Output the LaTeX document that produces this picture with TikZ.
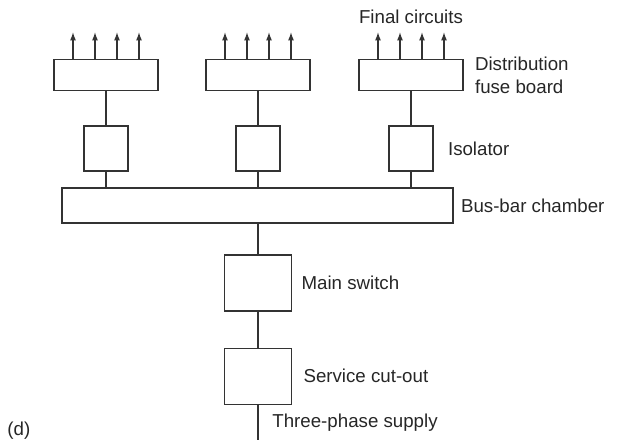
\documentclass[tikz,border=0pt]{standalone}
\usepackage{fontspec}
\setmainfont{Liberation Sans}
\usepackage{tikz}
\usetikzlibrary{positioning, arrows.meta}

\begin{document}
\begin{tikzpicture}[
  x=0.5pt, y=0.5pt,
  unit/.style={draw=black!80, line width=0.65pt, inner sep=0pt},
  board/.style={unit, minimum width=52pt, minimum height=15.5pt},
  iso/.style={unit, minimum width=22pt, minimum height=22.5pt},
  switchbox/.style={unit, minimum width=33.5pt, minimum height=28pt},
  bus/.style={unit, minimum width=195.5pt, minimum height=17.5pt},
  lbl/.style={inner sep=0pt, text=black!85, align=left,
              font=\fontsize{9.35pt}{11.5pt}\selectfont},
  wire/.style={draw=black!80, line width=0.65pt},
  feed/.style={wire, -{Latex[length=4.2pt, width=3pt]}}
]
  \useasboundingbox (0,0) rectangle (617,442);

  % supply side
  \node[bus] (bus) at (257.5,236.5) {};
  \node[switchbox] (main) at (258,159) {};
  \node[switchbox, below=18pt of main] (cutout) {};
  \coordinate (supply) at (258,2);

  \draw[wire] (supply) -- (cutout);
  \draw[wire] (cutout) -- (main);
  \draw[wire] (main) -- (main |- bus.south);

  % three outgoing ways
  \foreach \n/\x in {a/106, b/258, c/411} {
    \node[iso] (iso\n) at (\x,293.5) {};
    \node[board, above=17pt of iso\n] (fb\n) {};
    \draw[wire] (iso\n) -- (iso\n |- bus.north);
    \draw[wire] (iso\n) -- (fb\n);
    \foreach \i/\dx in {1/-33, 2/-11, 3/11, 4/33} {
      \coordinate (tip\n\i) at ([xshift=\dx*0.5pt, yshift=13.5pt]fb\n.north);
      \draw[feed] (tip\n\i |- fb\n.north) -- (tip\n\i);
    }
  }

  % labels
  \node[lbl] (lblfinal) at (411,425) {Final circuits};
  \node[lbl, right=5.5pt of fbc] (lbldist) {Distribution\\fuse board};
  \node[lbl, right=7pt of isoc] (lbliso) {Isolator};
  \node[lbl, right=3.5pt of bus] (lblbus) {Bus-bar chamber};
  \node[lbl, right=4.5pt of main] (lblmain) {Main switch};
  \node[lbl, right=5.5pt of cutout] (lblcut) {Service cut-out};
  \node[lbl, anchor=west] (lblsupply) at (272,19) {Three-phase supply};
  \node[lbl, anchor=west] (lblfig) at (7,11) {(d)};
\end{tikzpicture}
\end{document}
